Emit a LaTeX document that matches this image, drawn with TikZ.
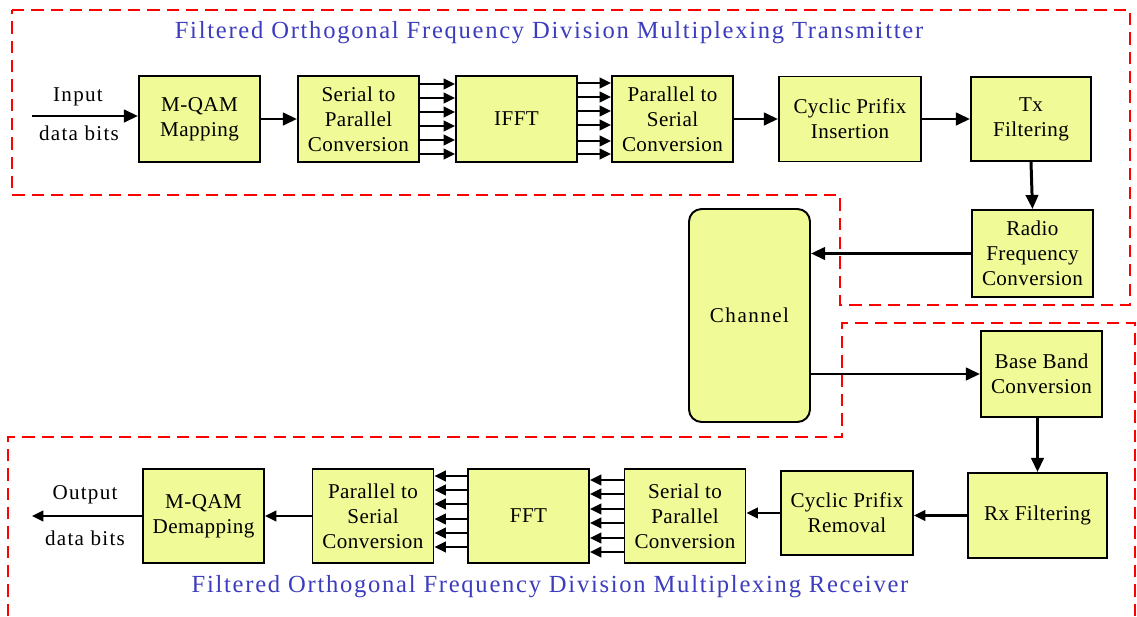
\documentclass[tikz,border=0pt]{standalone}
\usepackage{fontspec}
\setmainfont{Liberation Serif}
\usetikzlibrary{arrows.meta,calc}

\definecolor{boxfill}{RGB}{240,250,150}
\definecolor{titleblue}{RGB}{60,60,190}

\begin{document}
\begin{tikzpicture}[x=0.02cm, y=-0.02cm,
  box/.style={draw, line width=1.1pt, fill=boxfill, align=center, minimum width=2.42cm, minimum height=1.72cm, inner sep=1pt, font=\rmfamily\fontsize{12}{14.2}\selectfont\addfontfeature{LetterSpace=2}},
  tall/.style={minimum height=1.88cm},
  heading/.style={font=\rmfamily\fontsize{14}{16}\selectfont\addfontfeature{LetterSpace=7}, text=titleblue},
  note/.style={font=\rmfamily\fontsize{12}{14}\selectfont\addfontfeature{LetterSpace=6}},
  arr/.style={-{Triangle[length=8pt,width=7pt]}, line width=1.7pt},
  bus/.style={-{Triangle[length=6.5pt,width=6pt]}, line width=1.4pt},
  zone/.style={draw=red, line width=1.1pt, dash pattern=on 7pt off 4pt}
]
\useasboundingbox (0,0) rectangle (1137,616);

% dashed frames
\draw[zone] (12,10) -- (1130,10) -- (1130,305) -- (840,305) -- (840,195) -- (12,195) -- cycle;
\draw[zone] (8,616) -- (8,437) -- (842,437) -- (842,323) -- (1135,323) -- (1135,616);

\node[heading] (txtitle) at (549,33) {Filtered Orthogonal Frequency Division Multiplexing Transmitter};
\node[heading] (rxtitle) at (550,587) {Filtered Orthogonal Frequency Division Multiplexing Receiver};

% transmitter
\node[box] (map) at (199.5,119) {M-QAM\\Mapping};
\node[box] (sp) at (358.5,119) {Serial to\\Parallel\\Conversion};
\node[box] (ifft) at (516.5,119) {IFFT};
\node[box] (ps) at (672.5,119) {Parallel to\\Serial\\Conversion};
\node[box, minimum width=2.84cm, minimum height=1.7cm] (cpi) at (850,119) {Cyclic Prifix\\Insertion};
\node[box, minimum width=2.4cm, minimum height=1.68cm] (txf) at (1031,119) {Tx\\Filtering};
\node[box, minimum height=1.74cm] (rf) at (1032.5,253.5) {Radio\\Frequency\\Conversion};

% channel
\node[box, rounded corners=0.25cm, minimum height=4.26cm] (chan) at (749.5,315.5) {\addfontfeature{LetterSpace=7}Channel};

% receiver
\node[box] (bb) at (1041.5,374) {Base Band\\Conversion};
\node[box, minimum width=2.78cm, minimum height=1.7cm] (rxf) at (1037.5,515.5) {Rx Filtering};
\node[box, minimum width=2.64cm, minimum height=1.68cm] (cpr) at (847,513) {Cyclic Prifix\\Removal};
\node[box, tall] (sp2) at (685,516) {Serial to\\Parallel\\Conversion};
\node[box, tall] (fft) at (528.5,516) {FFT};
\node[box, tall] (ps2) at (373,516) {Parallel to\\Serial\\Conversion};
\node[box, tall] (demap) at (203.5,516) {M-QAM\\Demapping};

\coordinate (in) at (32,116);
\coordinate (out) at (32,516);
\node[note] (inlbl) at (78,97) {Input};
\node[note] (inbits) at (79,133) {data bits};
\node[note] (outlbl) at (85,495) {Output};
\node[note] (outbits) at (85,538) {data bits};

\draw[arr] (in) -- (map.west |- in);
\draw[arr] (map.east) -- (sp.west);
\foreach \dy in {-35,-21,-7,7,21,35}
  \draw[bus] ($(sp.east)+(0,\dy)$) -- ($(ifft.west)+(0,\dy)$);
\foreach \dy in {-36,-22,-8,6,22,35}
  \draw[bus] ($(ifft.east)+(0,\dy)$) -- ($(ps.west)+(0,\dy)$);
\draw[arr] (ps.east) -- (cpi.west);
\draw[arr] (cpi.east) -- (txf.west);
\draw[arr] (txf.south) -- (rf.north);
\draw[arr] (rf.west) -- (chan.east |- rf.west);
\draw[arr] (chan.east |- bb.west) -- (bb.west);
\draw[arr] (bb.south -| rxf.north) -- (rxf.north);
\draw[bus] (rxf.west) -- (cpr.east |- rxf.west);
\draw[bus] (cpr.west) -- (sp2.east |- cpr.west);
\foreach \dy in {-36,-22,-7,7,22,36}
  \draw[bus] ($(sp2.west)+(0,\dy)$) -- ($(fft.east)+(0,\dy)$);
\foreach \dy in {-40,-26,-12,3,17,31}
  \draw[bus] ($(fft.west)+(0,\dy)$) -- ($(ps2.east)+(0,\dy)$);
\draw[bus] (ps2.west) -- (demap.east);
\draw[bus] (demap.west) -- (out);

\end{tikzpicture}
\end{document}
